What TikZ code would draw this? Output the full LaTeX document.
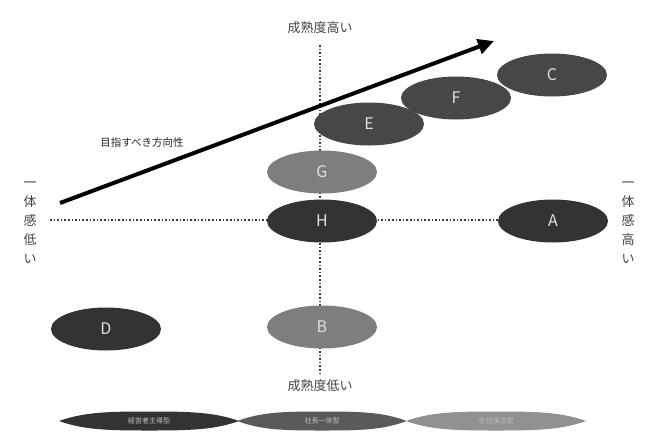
\documentclass[tikz,border=0pt]{standalone}
\usepackage{fontspec}
\setmainfont{Noto Sans CJK JP}
\usetikzlibrary{shapes.geometric,arrows.meta}
\definecolor{darkov}{HTML}{333333}
\definecolor{midov}{HTML}{474747}
\definecolor{lightov}{HTML}{7E7E7E}
\definecolor{axisc}{HTML}{3A3A3A}
\definecolor{labc}{HTML}{444444}
\tikzset{
  ov/.style={ellipse, minimum width=110pt, minimum height=43pt, inner sep=0pt,
    text=white!88!black, font=\fontsize{16}{16}\selectfont},
  ovdark/.style={ov, fill=darkov},
  ovmid/.style={ov, fill=midov},
  ovlight/.style={ov, fill=lightov},
  axis/.style={axisc, line width=1.6pt, dotted},
  axlabel/.style={text=labc, font=\fontsize{13}{13}\selectfont, inner sep=0pt},
  vlabel/.style={text=labc, font=\fontsize{13}{19}\selectfont, align=center, inner sep=0pt},
  lenstext/.style={text=white!75!black, font=\fontsize{7}{7}\selectfont, inner sep=0pt},
  pics/lensshape/.style={code={
    \fill[#1] (-90,0) .. controls (-65,-9) and (-40,-9.5) .. (0,-9.5)
      .. controls (40,-9.5) and (65,-9) .. (90,0)
      .. controls (65,9) and (40,9.5) .. (0,9.5)
      .. controls (-40,9.5) and (-65,9) .. (-90,0) -- cycle;
  }}
}
\begin{document}
\begin{tikzpicture}[x=1pt,y=-1pt]
\useasboundingbox (0,0) rectangle (653,440);
\fill[white] (0,0) rectangle (653,440);
% axes
\coordinate (vtop) at (320,45);
\coordinate (vbot) at (320,374);
\coordinate (hleft) at (50,220);
\coordinate (hright) at (602,220);
\draw[axis] (vtop) -- (vbot);
\draw[axis] (hleft) -- (hright);
% axis labels
\node[axlabel] (hi) at (320,28) {成熟度高い};
\node[axlabel] (lo) at (320,386) {成熟度低い};
\node[vlabel] (left) at (30,223) {一\\体\\感\\低\\い};
\node[vlabel] (right) at (628,223) {一\\体\\感\\高\\い};
% ellipses
\node[ovmid] (C) at (552,75) {C};
\node[ovmid] (F) at (456,98) {F};
\node[ovmid] (E) at (369,124) {E};
\node[ovlight] (G) at (322,172) {G};
\node[ovdark] (H) at (322,221) {H};
\node[ovdark] (A) at (553,221) {A};
\node[ovlight] (B) at (322,327) {B};
\node[ovdark] (D) at (106,329) {D};
% direction arrow
\coordinate (astart) at (60,203);
\coordinate (aend) at (494,41);
\draw[line width=4pt, -{Triangle[length=16pt,width=15pt]}] (astart) -- (aend);
\node[text=black!85, font=\fontsize{10.5}{10.5}\selectfont, inner sep=0pt] (dir) at (142,143) {目指すべき方向性};
% bottom lenses
\pic at (149,421) {lensshape=darkov};
\pic[xscale=0.94] at (322,421) {lensshape=midov!90!white};
\pic at (496,421) {lensshape=lightov!85!white};
\node[lenstext] (l1) at (149,421) {経営者主導型};
\node[lenstext] (l2) at (322,421) {社長一体型};
\node[lenstext] (l3) at (496,421) {全社浸透型};
\end{tikzpicture}
\end{document}
